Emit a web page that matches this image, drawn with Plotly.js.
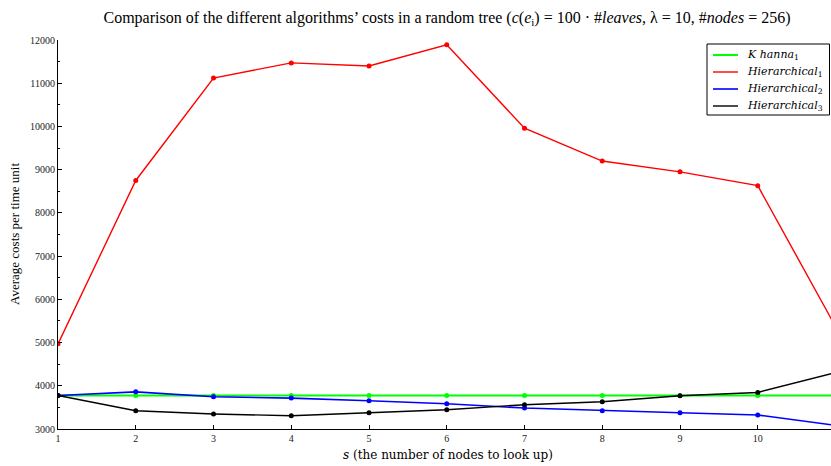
<!DOCTYPE html>
<html>
<head>
<meta charset="utf-8">
<script src="https://cdn.plot.ly/plotly-3.0.1.min.js"></script>
<style>
  html, body { margin: 0; padding: 0; background: #fff; }
  #chart { width: 831px; height: 466px; }
</style>
</head>
<body>
<div id="chart"></div>
<script>
// Number of nodes looked up
const lookups = [1, 2, 3, 4, 5, 6, 7, 8, 9, 10, 11];

// Average costs per time unit for each algorithm
const khanna1 = [3775, 3775, 3775, 3775, 3775, 3775, 3775, 3775, 3775, 3775, 3775];
const hierarchical1 = [4970, 8750, 11120, 11470, 11400, 11890, 9960, 9200, 8950, 8630, 5370];
const hierarchical2 = [3775, 3860, 3745, 3715, 3655, 3585, 3485, 3423, 3377, 3324, 3085];
const hierarchical3 = [3775, 3423, 3347, 3307, 3377, 3446, 3562, 3631, 3770, 3846, 4306];

const seriesNames = [
  '<i>K hanna</i><sub>1</sub>',
  '<i>Hierarchical</i><sub>1</sub>',
  '<i>Hierarchical</i><sub>2</sub>',
  '<i>Hierarchical</i><sub>3</sub>'
];
const seriesColors = ['#00ff00', '#ff0000', '#0000ff', '#000000'];
const seriesWidths = [2, 1.4, 1.6, 1.4];
const seriesValues = [khanna1, hierarchical1, hierarchical2, hierarchical3];

const yTicks = [3000, 4000, 5000, 6000, 7000, 8000, 9000, 10000, 11000, 12000];
const xTicks = [1, 2, 3, 4, 5, 6, 7, 8, 9, 10];

const serif = 'Liberation Serif, Times New Roman, serif';
const mathSerif = 'DejaVu Serif, serif';

// plot area in pixels: left 58, right 831, top 40, bottom 429
const PL = 58, PR = 831, PT = 40, PB = 429;
const px = v => (v - PL) / (PR - PL);
const py = v => (PB - v) / (PB - PT);

const traces = seriesValues.map((vals, i) => ({
  type: 'scatter',
  mode: 'lines+markers',
  x: lookups,
  y: vals,
  name: seriesNames[i],
  showlegend: false,
  line: { color: seriesColors[i], width: seriesWidths[i] },
  marker: { color: seriesColors[i], size: 5 },
  cliponaxis: true,
  hoverinfo: 'x+y+name'
}));

// hand-placed legend box with a short line per series
const legendShapes = [{
  type: 'rect', xref: 'paper', yref: 'paper',
  x0: px(707), x1: px(829.5), y0: py(115), y1: py(44),
  line: { color: '#000', width: 1 }, fillcolor: '#ffffff', layer: 'above'
}];
const legendRows = [55, 72, 89, 106];
const legendText = [];
seriesNames.forEach((name, i) => {
  legendShapes.push({
    type: 'line', xref: 'paper', yref: 'paper',
    x0: px(713), x1: px(738), y0: py(legendRows[i]), y1: py(legendRows[i]),
    line: { color: seriesColors[i], width: seriesWidths[i] }, layer: 'above'
  });
  legendText.push({
    text: name, xref: 'paper', yref: 'paper',
    x: px(745), y: py(legendRows[i]), xanchor: 'left', yanchor: 'middle',
    showarrow: false, font: { family: mathSerif, size: 11, color: '#000' }
  });
});

const layout = {
  width: 831,
  height: 466,
  margin: { l: PL, r: 831 - PR, t: PT, b: 466 - PB },
  paper_bgcolor: '#ffffff',
  plot_bgcolor: '#ffffff',
  font: { family: serif, color: '#000', size: 10 },
  showlegend: false,
  title: {
    text: 'Comparison of the different algorithms’ costs in a random tree (<i>c</i>(<i>e</i><sub>i</sub>) = 100 · #<i>leaves</i>, λ = 10, #<i>nodes</i> = 256)',
    font: { family: serif, size: 16, color: '#000' },
    x: 447 / 831,
    xanchor: 'center',
    xref: 'container',
    y: 1 - 17 / 466,
    yanchor: 'middle',
    yref: 'container'
  },
  xaxis: {
    range: [1, 1 + 773 / 77.75],
    tickmode: 'array',
    tickvals: xTicks,
    ticktext: xTicks.map(String),
    ticks: 'inside',
    ticklen: 4,
    tickcolor: '#000',
    showline: true,
    linecolor: '#000',
    linewidth: 1,
    showgrid: false,
    zeroline: false,
    tickfont: { family: serif, size: 10, color: '#222' }
  },
  yaxis: {
    range: [3000, 12000],
    tickmode: 'array',
    tickvals: yTicks,
    ticktext: yTicks.map(String),
    ticks: 'inside',
    ticklen: 4,
    tickcolor: '#000',
    minor: { dtick: 500, ticks: 'inside', ticklen: 2, tickcolor: '#000', showgrid: false },
    showline: true,
    linecolor: '#000',
    linewidth: 1,
    showgrid: false,
    zeroline: false,
    tickfont: { family: serif, size: 10, color: '#222' }
  },
  shapes: legendShapes,
  annotations: legendText.concat([
    {
      text: '<i>s</i> (the number of nodes to look up)',
      xref: 'paper', yref: 'paper',
      x: px(447.5), y: py(455),
      xanchor: 'center', yanchor: 'middle',
      showarrow: false,
      font: { family: mathSerif, size: 12, color: '#000' }
    },
    {
      text: 'Average costs per time unit',
      xref: 'paper', yref: 'paper',
      x: px(14), y: py(234),
      xanchor: 'center', yanchor: 'middle',
      textangle: -90,
      showarrow: false,
      font: { family: serif, size: 13, color: '#000' }
    }
  ])
};

Plotly.newPlot('chart', traces, layout, { displayModeBar: false, responsive: false });
</script>
</body>
</html>
